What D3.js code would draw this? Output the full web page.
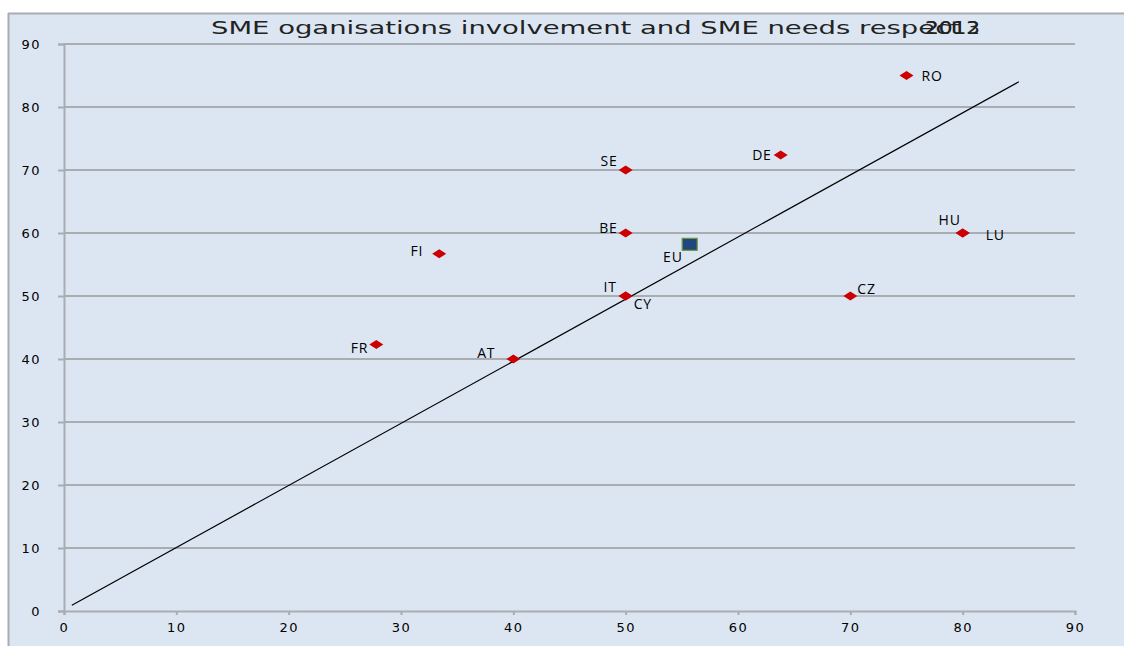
<!DOCTYPE html>
<html>
<head>
<meta charset="utf-8">
<script src="https://cdn.jsdelivr.net/npm/d3@7"></script>
<style>
  body { margin: 0; background: #fff; }
  .tick-label { font-family: "DejaVu Sans", Verdana, sans-serif; font-size: 13px; letter-spacing: 1.5px; fill: #000; }
  .point-label { font-family: "Open Sans", "Noto Sans", sans-serif; font-size: 14px; letter-spacing: 0.8px; fill: #000; }
  .title { font-family: "DejaVu Sans", Verdana, sans-serif; font-size: 18px; fill: #222; }
</style>
</head>
<body>
<svg id="chart" width="1124" height="646"></svg>
<script>
// ----------

const COUNTRIES = ["RO", "DE", "SE", "BE", "HU", "LU", "FI", "IT", "CY", "CZ", "FR", "AT"];
const INVOLVEMENT = [75, 63.8, 50, 50, 80, 80, 33.4, 50, 50, 70, 27.8, 40];
const NEEDS_RESPECT = [85, 72.4, 70, 60, 60, 60, 56.7, 50, 50, 50, 42.3, 40];

const EU_POINT = [55.7, 58.2];
const DIAGONAL = [[0.7, 0.9], [85, 84]];

const AXIS_TICKS = [0, 10, 20, 30, 40, 50, 60, 70, 80, 90];

const TITLE = "SME oganisations involvement and SME needs respect";
const TITLE_YEARS = ["2012", "2013"];

// label nudge around each marker: [dx, dy, anchor]
const LABEL_NUDGE = {
  RO: [15, 5, "start"], DE: [-9, 5, "end"], SE: [-8, -4, "end"], BE: [-8, 0, "end"],
  HU: [-2, -8, "end"], LU: [23, 7, "start"], FI: [-16, 2, "end"], IT: [-9, -4, "end"],
  CY: [8, 13, "start"], CZ: [7, -2, "start"], FR: [-8, 8, "end"], AT: [-18, -1, "end"]
};

// ----------

const BG = "#dce6f2";
const GRID = "#a9acb1";
const RED = "#cc0000";

const svg = d3.select("#chart");

// chart area
svg.append("rect")
  .attr("x", 8).attr("y", 13).attr("width", 1124).attr("height", 646)
  .attr("fill", BG);
svg.append("line").attr("x1", 8).attr("x2", 1124).attr("y1", 13.5).attr("y2", 13.5)
  .attr("stroke", GRID).attr("stroke-width", 2);
svg.append("line").attr("x1", 8.5).attr("x2", 8.5).attr("y1", 13).attr("y2", 646)
  .attr("stroke", GRID).attr("stroke-width", 2);

const x = d3.scaleLinear().domain([0, 90]).range([64, 1075]);
const y = d3.scaleLinear().domain([0, 90]).range([611, 44]);

// gridlines
svg.append("g")
  .selectAll("line")
  .data(AXIS_TICKS.filter(d => d > 0))
  .enter()
  .append("line")
  .attr("x1", x(0)).attr("x2", x(90))
  .attr("y1", d => y(d)).attr("y2", d => y(d))
  .attr("stroke", GRID).attr("stroke-width", 2);

// y axis
let yAxis = svg.append("g")
  .attr("transform", "translate(" + x(0) + ",0)")
  .call(d3.axisLeft(y).tickValues(AXIS_TICKS).tickSize(6).tickPadding(17));
yAxis.select(".domain").attr("stroke", GRID).attr("stroke-width", 2);
yAxis.selectAll(".tick line").attr("stroke", GRID).attr("stroke-width", 2);
yAxis.selectAll(".tick text").attr("class", "tick-label");
yAxis.attr("font-size", null).attr("font-family", null);

// x axis
let xAxis = svg.append("g")
  .attr("transform", "translate(0," + y(0) + ")")
  .call(d3.axisBottom(x).tickValues(AXIS_TICKS).tickSize(4).tickPadding(8));
xAxis.select(".domain").attr("stroke", GRID).attr("stroke-width", 2);
xAxis.selectAll(".tick line").attr("stroke", GRID).attr("stroke-width", 2);
xAxis.selectAll(".tick text").attr("class", "tick-label");
xAxis.attr("font-size", null).attr("font-family", null);

// diagonal
svg.append("line")
  .attr("x1", x(DIAGONAL[0][0])).attr("y1", y(DIAGONAL[0][1]))
  .attr("x2", x(DIAGONAL[1][0])).attr("y2", y(DIAGONAL[1][1]))
  .attr("stroke", "#000").attr("stroke-width", 1.2);

// country markers
let points = COUNTRIES.map((c, i) => ({ name: c, x: INVOLVEMENT[i], y: NEEDS_RESPECT[i] }));

svg.append("g")
  .selectAll("path")
  .data(points)
  .enter()
  .append("path")
  .attr("d", d => {
    let cx = x(d.x), cy = y(d.y);
    return "M" + (cx - 7) + "," + cy + "L" + cx + "," + (cy - 4.5) + "L" + (cx + 7) + "," + cy + "L" + cx + "," + (cy + 4.5) + "Z";
  })
  .attr("fill", RED);

svg.append("g")
  .selectAll("text")
  .data(points)
  .enter()
  .append("text")
  .attr("class", "point-label")
  .attr("x", d => x(d.x) + LABEL_NUDGE[d.name][0])
  .attr("y", d => y(d.y) + LABEL_NUDGE[d.name][1])
  .attr("text-anchor", d => LABEL_NUDGE[d.name][2])
  .text(d => d.name);

// EU average
svg.append("rect")
  .attr("x", x(EU_POINT[0]) - 7.5).attr("y", y(EU_POINT[1]) - 6)
  .attr("width", 15).attr("height", 12)
  .attr("fill", "#1f497d").attr("stroke", "#77933c").attr("stroke-width", 1.2);
svg.append("text")
  .attr("class", "point-label")
  .attr("x", x(EU_POINT[0]) - 7).attr("y", y(EU_POINT[1]) + 18)
  .attr("text-anchor", "end")
  .text("EU");

// title with the overlapping year labels
svg.append("text")
  .attr("class", "title")
  .attr("x", 211).attr("y", 34)
  .attr("textLength", 750).attr("lengthAdjust", "spacingAndGlyphs")
  .text(TITLE);
svg.selectAll(".year")
  .data(TITLE_YEARS)
  .enter()
  .append("text")
  .attr("class", "title year")
  .attr("x", 925).attr("y", 34)
  .attr("textLength", 55).attr("lengthAdjust", "spacingAndGlyphs")
  .text(d => d);
</script>
</body>
</html>
